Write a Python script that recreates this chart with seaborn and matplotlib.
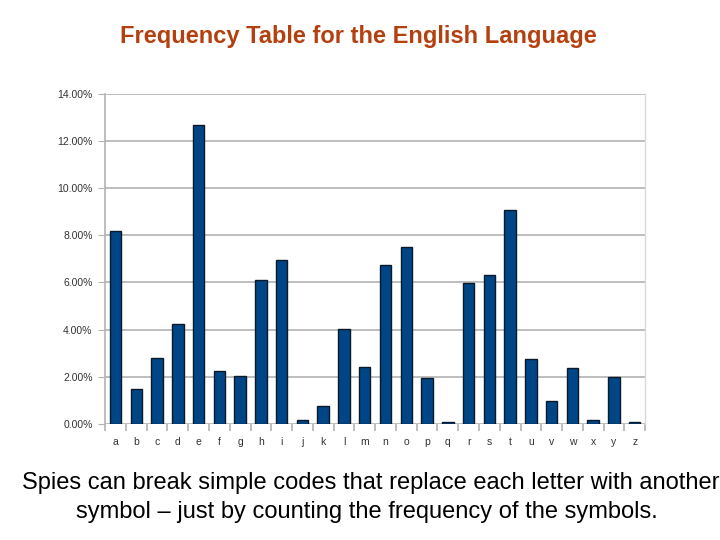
import matplotlib
matplotlib.use("Agg")
import matplotlib.pyplot as plt
import seaborn as sns
import pandas as pd
from matplotlib.ticker import FuncFormatter, FixedLocator

letters = list("abcdefghijklmnopqrstuvwxyz")
freq = [8.17, 1.49, 2.78, 4.25, 12.70, 2.23, 2.02, 6.09, 6.97, 0.15,
        0.77, 4.03, 2.41, 6.75, 7.51, 1.93, 0.10, 5.99, 6.33, 9.06,
        2.76, 0.98, 2.36, 0.15, 1.97, 0.07]

df = pd.DataFrame({"letter": letters, "freq": freq})

sns.set_style("white")
plt.rcParams['font.family'] = ['Liberation Sans', 'DejaVu Sans']

fig = plt.figure(figsize=(7.2, 5.4), dpi=100)
ax = fig.add_axes([0.146, 0.215, 0.75, 0.611])

sns.barplot(data=df, x="letter", y="freq", color="#004586", saturation=1,
            width=0.55, edgecolor="#0a1a2a", linewidth=1.0, ax=ax, zorder=3)

ax.set_ylim(0, 14)
ax.set_xlim(-0.5, 25.5)
ax.set_yticks([0, 2, 4, 6, 8, 10, 12, 14])
ax.yaxis.set_major_formatter(FuncFormatter(lambda v, p: f"{v:.2f}%"))
ax.grid(axis="y", color="#b3b3b3", linewidth=1.2, zorder=0)
ax.set_axisbelow(True)
ax.set_xlabel("")
ax.set_ylabel("")

for side in ["top", "bottom"]:
    ax.spines[side].set_visible(False)
ax.spines["left"].set_color("#b3b3b3")
ax.spines["left"].set_linewidth(1.2)
ax.spines["right"].set_color("#d9d9d9")
ax.spines["right"].set_linewidth(1.0)

ax.tick_params(axis="y", which="major", left=True, length=5, color="#b3b3b3",
               labelsize=7.5, labelcolor="#333333", pad=4)
ax.tick_params(axis="x", which="major", bottom=False, labelsize=7.5,
               labelcolor="#333333", pad=6)
ax.xaxis.set_minor_locator(FixedLocator([i - 0.5 for i in range(27)]))
ax.tick_params(axis="x", which="minor", bottom=True, length=5,
               color="#b3b3b3", width=1.2)

fig.text(358 / 720, 1 - 37 / 540, "Frequency Table for the English Language",
         ha="center", va="center", fontsize=17, fontweight="bold",
         color="#b5400f")

fig.text(22 / 720, 1 - 483 / 540,
         "Spies can break simple codes that replace each letter with another",
         ha="left", va="center", fontsize=17, color="black")
fig.text(367 / 720, 1 - 512 / 540,
         "symbol \u2013 just by counting the frequency of the symbols.",
         ha="center", va="center", fontsize=17, color="black")

fig.savefig("out.png", dpi=100)
